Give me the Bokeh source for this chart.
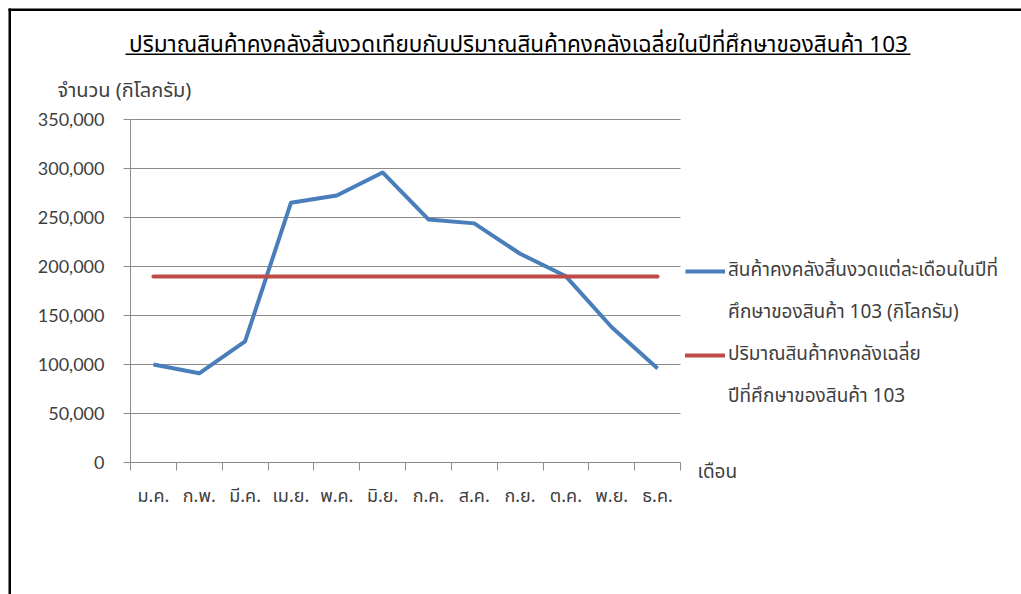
from bokeh.plotting import figure
from bokeh.models import (FixedTicker, NumeralTickFormatter, Label, Legend,
                          LegendItem, BoxAnnotation, Range1d)
from bokeh.embed import file_html
from bokeh.resources import INLINE

# Monthly inventory data (kg)
months = ["ม.ค.", "ก.พ.", "มี.ค.", "เม.ย.", "พ.ค.", "มิ.ย.",
          "ก.ค.", "ส.ค.", "ก.ย.", "ต.ค.", "พ.ย.", "ธ.ค."]
stock_end = [100000, 91000, 123500, 265000, 272500, 296000,
             248000, 244000, 213000, 190000, 138000, 96000]
stock_avg_value = 189700
y_ticks = [0, 50000, 100000, 150000, 200000, 250000, 300000, 350000]

title_text = "ปริมาณสินค้าคงคลังสิ้นงวดเทียบกับปริมาณสินค้าคงคลังเฉลี่ยในปีที่ศึกษาของสินค้า 103"
y_label_text = "จำนวน (กิโลกรัม)"
x_label_text = "เดือน"
legend_lines = ["สินค้าคงคลังสิ้นงวดแต่ละเดือนในปีที่", "ศึกษาของสินค้า 103 (กิโลกรัม)",
                "ปริมาณสินค้าคงคลังเฉลี่ย", "ปีที่ศึกษาของสินค้า 103"]

THAI = "Noto Sans Thai, Noto Sans, Lato"
NUM = "Lato"
AXIS_GRAY = "#8c8c8c"
TEXT_GRAY = "#404040"
BLUE = "#4a7ebb"
RED = "#be4b48"

# page and plot-area geometry (pixels)
W, H = 1021, 594
AREA_L, AREA_R, AREA_T, AREA_B = 130, 680, 119, 462
y_max = y_ticks[-1]
n = len(months)

ux = (AREA_R - AREA_L) / n
uy = (AREA_B - AREA_T) / y_max

xs = [i + 0.5 for i in range(n)]
avg_series = [stock_avg_value] * n

p = figure(width=W, height=H, output_backend="svg", toolbar_location=None,
           x_range=Range1d(-AREA_L / ux, (W - AREA_L) / ux),
           y_range=Range1d(-(H - AREA_B) / uy, y_max + AREA_T / uy),
           min_border=0)
p.outline_line_color = None
p.background_fill_color = "white"
p.border_fill_color = "white"
p.xgrid.visible = False
p.ygrid.visible = False

# horizontal gridlines across the plot area
p.segment(x0=0, x1=n, y0=y_ticks, y1=y_ticks, line_color=AXIS_GRAY, line_width=1)

blue_r = p.line(xs, stock_end, line_color=BLUE, line_width=4, line_join="round")
red_r = p.line(xs, avg_series, line_color=RED, line_width=4, line_cap="round")
blank_r = p.line([], [], line_alpha=0)

# y axis
p.yaxis.fixed_location = 0
p.yaxis.bounds = (0, y_max)
p.yaxis.ticker = FixedTicker(ticks=y_ticks)
p.yaxis.formatter = NumeralTickFormatter(format="0,0")
p.yaxis.axis_line_color = AXIS_GRAY
p.yaxis.major_tick_line_color = AXIS_GRAY
p.yaxis.major_tick_out = 7
p.yaxis.major_tick_in = 0
p.yaxis.minor_tick_line_color = None
p.yaxis.major_label_text_font = NUM
p.yaxis.major_label_text_font_size = "18px"
p.yaxis.major_label_text_color = TEXT_GRAY
p.yaxis.major_label_standoff = 19

# x axis: labels at month centres, ticks on boundaries
p.xaxis.fixed_location = 0
p.xaxis.bounds = (0, n)
p.xaxis.ticker = FixedTicker(ticks=xs, minor_ticks=list(range(n + 1)))
p.xaxis.major_label_overrides = {x: m for x, m in zip(xs, months)}
p.xaxis.axis_line_color = AXIS_GRAY
p.xaxis.major_tick_line_color = None
p.xaxis.major_tick_out = 0
p.xaxis.major_tick_in = 0
p.xaxis.minor_tick_line_color = AXIS_GRAY
p.xaxis.minor_tick_out = 8
p.xaxis.minor_tick_in = 0
p.xaxis.major_label_text_font = THAI
p.xaxis.major_label_text_font_size = "18px"
p.xaxis.major_label_text_color = TEXT_GRAY
p.xaxis.major_label_standoff = 12

# page frame: left and top rules
for box in (dict(left=8, right=10.5, top=H - 8, bottom=0),
            dict(left=8, right=W, top=H - 8, bottom=H - 10.5)):
    p.add_layout(BoxAnnotation(**box, left_units="screen", right_units="screen",
                               top_units="screen", bottom_units="screen",
                               fill_color="black", fill_alpha=1, line_color=None))

# title with underline
p.add_layout(Label(x=518, y=H - 44, x_units="screen", y_units="screen", text=title_text,
                   text_font=THAI, text_font_size="22.5px", text_color="black",
                   text_align="center", text_baseline="middle"))
p.add_layout(BoxAnnotation(left=125, right=910, top=H - 53, bottom=H - 54.5,
                           left_units="screen", right_units="screen",
                           top_units="screen", bottom_units="screen",
                           fill_color="black", fill_alpha=1, line_color=None))
p.add_layout(Label(x=57, y=H - 90, x_units="screen", y_units="screen", text=y_label_text,
                   text_font=THAI, text_font_size="20px", text_color=TEXT_GRAY,
                   text_align="left", text_baseline="middle"))
p.add_layout(Label(x=697, y=H - 472, x_units="screen", y_units="screen", text=x_label_text,
                   text_font=THAI, text_font_size="19px", text_color=TEXT_GRAY,
                   text_align="left", text_baseline="middle"))

legend = Legend(items=[
    LegendItem(label=legend_lines[0], renderers=[blue_r]),
    LegendItem(label=legend_lines[1], renderers=[blank_r]),
    LegendItem(label=legend_lines[2], renderers=[red_r]),
    LegendItem(label=legend_lines[3], renderers=[blank_r]),
], location=(685, H - 411), orientation="vertical")
legend.border_line_color = None
legend.background_fill_alpha = 0
legend.glyph_width = 40
legend.glyph_height = 20
legend.label_height = 20
legend.spacing = 13
legend.padding = 0
legend.margin = 0
legend.label_standoff = 3
legend.label_text_font = THAI
legend.label_text_font_size = "19px"
legend.label_text_color = TEXT_GRAY
p.add_layout(legend, "center")

open("out.html", "w").write(file_html(p, INLINE))
